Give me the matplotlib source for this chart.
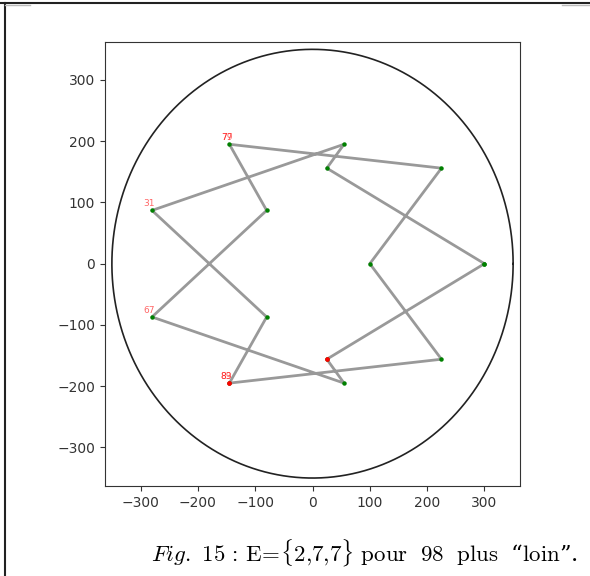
import matplotlib
matplotlib.use("Agg")
import matplotlib.pyplot as plt
from matplotlib.lines import Line2D
import numpy as np

# path of points (closed)
xs = [300, 25, 55, -280, -80, -145, 225, 100, 225, -145, -80, -280, 55, 25, 300]
ys = [0, 156, 195, 87, -87, -195, -156, 0, 156, 195, 87, -87, -195, -156, 0]
# red highlighted points
red_x = [25, -145]
red_y = [-156, -195]
# labels
lab_x = [-145, -145, -280, -280, -145, -145]
lab_y = [195, 195, 87, -87, -195, -195]
lab_t = ["77", "79", "31", "67", "83", "89"]
radius = 350
ticks = [-300, -200, -100, 0, 100, 200, 300]

plt.rcParams['mathtext.fontset'] = 'cm'
W, H = 590, 576
fig = plt.figure(figsize=(W / 100, H / 100), dpi=100)
ax = fig.add_axes([105 / W, 1 - 486 / H, 415 / W, 444 / H])

t = np.linspace(0, 2 * np.pi, 400)
ax.plot(radius * np.cos(t), radius * np.sin(t), color='#222222', lw=1.2)
ax.plot(xs, ys, color='gray', lw=2, alpha=0.8, zorder=2)
ax.plot(xs, ys, 'o', color='green', ms=2.2, zorder=3, ls='none')
ax.plot(red_x, red_y, 'o', color='red', ms=2.4, zorder=4, ls='none')
for x, y, s in zip(lab_x, lab_y, lab_t):
    ax.annotate(s, (x, y), xytext=(-2, 1.5), textcoords='offset points',
                ha='center', va='bottom', fontsize=6.5, color='red', alpha=0.6)

ax.set_xlim(-362, 362)
ax.set_ylim(-363, 362)
ax.set_xticks(ticks)
ax.set_yticks(ticks)
ax.tick_params(labelsize=10, colors='#333333')
for sp in ax.spines.values():
    sp.set_color('#333333')

# page borders
def px_line(x0, y0, x1, y1, color, lw):
    fig.add_artist(Line2D([x0 / W, x1 / W], [1 - y0 / H, 1 - y1 / H],
                          transform=fig.transFigure, color=color, lw=lw))

px_line(0, 2.5, W, 2.5, '#222222', 1.5)
px_line(4.5, 2.5, 4.5, H, '#222222', 1.5)
px_line(5, 4.5, 30, 4.5, '#bbbbbb', 1.0)
px_line(562, 4.5, W, 4.5, '#bbbbbb', 1.0)

caption = (r"$\mathit{Fig}.\ 15\,:\,\mathrm{E}\!=\!\{2{,}7{,}7\}\ \mathrm{pour}\ \ 98\ \ \mathrm{plus}\ \ $"
           "“" r"$\mathrm{loin}$" "”.")
fig.text(365 / W, 1 - 553 / H, caption, ha='center', va='center', fontsize=16.5,
         family='DejaVu Serif')

fig.savefig("out.png", dpi=100)
